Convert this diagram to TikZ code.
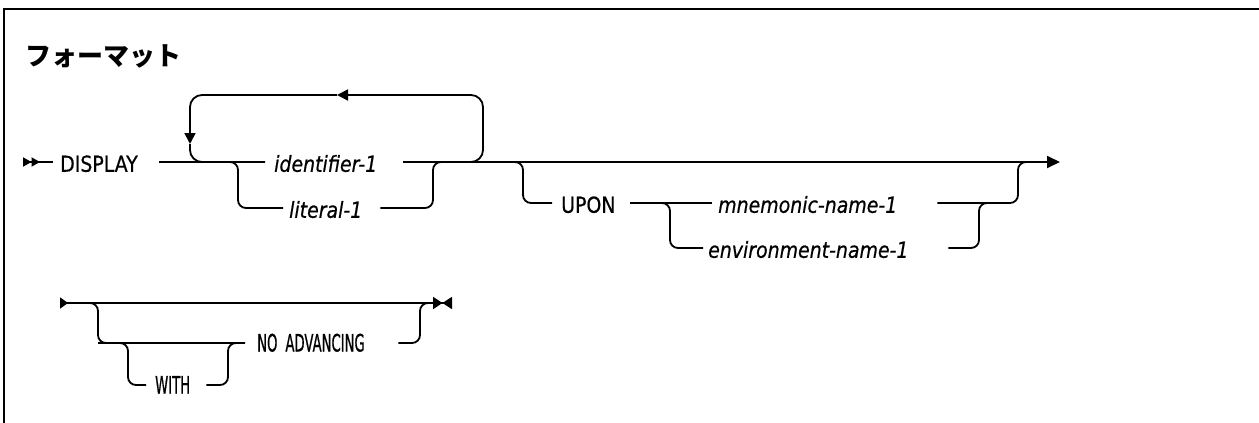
\documentclass[tikz,border=0pt]{standalone}
\usepackage{fontspec}
\setmainfont{DejaVu Sans}
\newfontfamily\railfont{DejaVu Sans}[FakeStretch=0.86, FakeBold=0.6]
\newfontfamily\railnarrow{DejaVu Sans}[FakeStretch=0.55, FakeBold=0.6]
\newfontfamily\cjk{Noto Sans CJK JP}
\usetikzlibrary{arrows.meta}

\begin{document}
\begin{tikzpicture}[
    x=1pt, y=-1pt,
    rail/.style={line width=1.8pt, rounded corners=8pt},
    frame/.style={line width=2.6pt},
    kw/.style={anchor=west, inner ysep=0pt, inner xsep=9pt, text height=19.5pt, text depth=0pt, align=left, font=\fontsize{22}{26}\selectfont\railfont},
    var/.style={kw, font=\fontsize{22}{26}\selectfont\railfont\itshape},
    kwn/.style={kw, text height=17pt, font=\fontsize{24}{28}\selectfont\railnarrow}
]
    \useasboundingbox (0,0) rectangle (1259,423);
    \draw[frame] (4,423) -- (4,9) -- (1259,9);
    \node[anchor=base west, inner sep=0pt, font=\fontsize{26}{30}\selectfont\cjk\bfseries] (title) at (25,65) {フォーマット};

    \coordinate (begin) at (23,162);
    \coordinate (fin) at (1060,162);
    \coordinate (loopR) at (483,95);
    \coordinate (loopTip) at (337,95);
    \coordinate (loopDown) at (190,144);
    \coordinate (litA) at (238,208);
    \coordinate (litB) at (433,162);
    \coordinate (litJ) at (445,162);
    \coordinate (uponA) at (523,203);
    \coordinate (uponB) at (1018,162);
    \coordinate (uponJ) at (1030,162);
    \coordinate (envA) at (670,248);
    \coordinate (envB) at (979,203);
    \coordinate (envJ) at (991,203);

    \node[kw, inner xsep=7pt, text width=92pt] (display) at (53,162) {DISPLAY};
    \node[var, text width=120pt] (ident) at (265,162) {identifier-1};
    \node[var, inner xsep=6pt, text width=85pt] (literal) at (283,208) {literal-1};
    \node[kw, text width=60pt] (upon) at (552,203) {UPON};
    \node[var, inner xsep=6pt, text width=213pt] (mnem) at (712,203) {mnemonic-name-1};
    \node[var, inner xsep=5pt, text width=235pt] (env) at (703,248) {environment-name-1};

    \draw[rail, {Triangle[reversed,length=8.5pt,width=9pt,sep=0pt] Triangle[reversed,length=8.5pt,width=9pt,sep=0pt]}-] (begin) -- (display.west);
    \draw[rail] (display.east) -- (ident.west);
    \draw[rail, -{Triangle[length=13pt,width=12pt]}] (ident.east) -- (fin);
    \draw[rail, rounded corners=12pt, -{Triangle[length=11pt,width=11pt]}] (ident.east) -| (loopR) -- (loopTip);
    \draw[rail, rounded corners=12pt, -{Triangle[length=11pt,width=11pt]}] (loopTip) -| (loopDown);
    \draw[rail, rounded corners=12pt] (loopDown) |- (ident.west);
    \draw[rail] (display.east) -| (litA) -- (literal.west);
    \draw[rail] (literal.east) -| (litB) -- (litJ);
    \draw[rail] (ident.east) -| (uponA) -- (upon.west);
    \draw[rail] (upon.east) -- (mnem.west);
    \draw[rail] (mnem.east) -| (uponB) -- (uponJ);
    \draw[rail] (upon.east) -| (envA) -- (env.west);
    \draw[rail] (env.east) -| (envB) -- (envJ);

    \coordinate (begin2) at (60,303);
    \coordinate (fin2) at (452,303);
    \coordinate (naA) at (98,343);
    \coordinate (naB) at (420,303);
    \coordinate (naJ) at (430,303);
    \coordinate (withA) at (128,385);
    \coordinate (withB) at (228,343);
    \coordinate (withJ) at (240,343);

    \node[kwn, inner xsep=12pt, text width=129pt] (noadv) at (245,343) {NO ADVANCING};
    \node[kwn, text width=42pt] (with) at (146,385) {WITH};

    \draw[rail, {Triangle[reversed,length=8pt,width=11pt,sep=0pt]}-{Triangle[length=9.5pt,width=12pt,sep=0pt] Triangle[reversed,length=9.5pt,width=12pt,sep=0pt]}] (begin2) -- (fin2);
    \draw[rail] (begin2) -| (naA) -- (noadv.west);
    \draw[rail] (noadv.east) -| (naB) -- (naJ);
    \draw[rail] (naA) -| (withA) -- (with.west);
    \draw[rail] (with.east) -| (withB) -- (withJ);
\end{tikzpicture}
\end{document}
